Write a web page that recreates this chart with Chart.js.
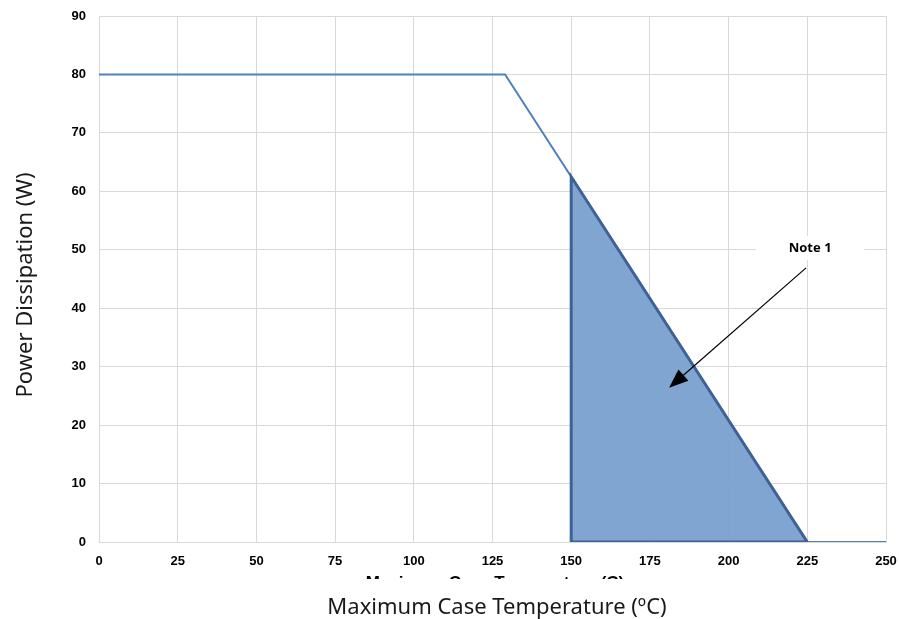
<!DOCTYPE html>
<html lang="en">
<head>
    <meta charset="UTF-8">
    <title>Power Dissipation vs Case Temperature</title>
    <script src="https://cdn.jsdelivr.net/npm/chart.js"></script>
    <style>
        html, body {
            margin: 0;
            padding: 0;
            background: #ffffff;
        }

        .chart-box {
            width: 899px;
            height: 619px;
        }
    </style>
</head>
<body>
    <div class="chart-box">
        <canvas id="deratingChart"></canvas>
    </div>

    <script>
        // Derating curve (temperature in degC, power in W)
        const curveTemps = [0, 129, 225, 250];
        const curvePower = [80, 80, 0, 0];

        // Shaded region under the curve from 150 degC
        const areaTemps = [150, 150, 225];
        const areaPower = [0, 62.5, 0];
        const areaBaseTemps = [150, 225];
        const areaBasePower = [0, 0];

        // Note callout: label position and arrow tip in data units
        const noteLabel = 'Note 1';
        const noteAt = [225.9, 50.3];
        const arrowFrom = [224.6, 46.9];
        const arrowTo = [181.1, 26.4];

        const xTicks = [0, 25, 50, 75, 100, 125, 150, 175, 200, 225, 250];
        const yTicks = [0, 10, 20, 30, 40, 50, 60, 70, 80, 90];

        const xTitleHidden = 'Maximum Case Temperature (C)';
        const xTitle = 'Maximum Case Temperature (\u00BAC)';
        const yTitle = 'Power Dissipation (W)';

        const toPoints = (xs, ys) => xs.map((x, i) => ({ x: x, y: ys[i] }));

        // Axis titles, note label and arrow drawn on top of the chart
        const extrasPlugin = {
            id: 'extras',
            afterDraw(chart) {
                const ctx = chart.ctx;
                const xs = chart.scales.x;
                const ys = chart.scales.y;
                const area = chart.chartArea;

                ctx.save();

                // small bold title, mostly covered by the large one
                ctx.fillStyle = '#000000';
                ctx.font = 'bold 17px "Liberation Sans", Arial, sans-serif';
                ctx.textAlign = 'center';
                ctx.textBaseline = 'alphabetic';
                ctx.fillText(xTitleHidden, 495, 588);
                ctx.fillStyle = '#ffffff';
                ctx.fillRect(300, 579, 420, 40);

                ctx.fillStyle = '#1a1a1a';
                ctx.font = '22px "Noto Sans", "Open Sans", sans-serif';
                ctx.fillText(xTitle, 497, 614);

                ctx.save();
                ctx.translate(32, (area.top + area.bottom) / 2 + 6);
                ctx.rotate(-Math.PI / 2);
                ctx.fillText(yTitle, 0, 0);
                ctx.restore();

                // note label with white backing
                const nx = xs.getPixelForValue(noteAt[0]);
                const ny = ys.getPixelForValue(noteAt[1]);
                ctx.fillStyle = '#ffffff';
                ctx.fillRect(nx - 54, ny - 12, 108, 24);
                ctx.fillStyle = '#000000';
                ctx.font = 'bold 13px "Noto Sans", "Open Sans", sans-serif';
                ctx.textBaseline = 'middle';
                ctx.fillText(noteLabel, nx, ny);

                // arrow
                const x1 = xs.getPixelForValue(arrowFrom[0]);
                const y1 = ys.getPixelForValue(arrowFrom[1]);
                const x2 = xs.getPixelForValue(arrowTo[0]);
                const y2 = ys.getPixelForValue(arrowTo[1]);
                const ang = Math.atan2(y2 - y1, x2 - x1);
                const headLen = 19;
                const headHalf = 7.5;
                const bx = x2 - headLen * Math.cos(ang);
                const by = y2 - headLen * Math.sin(ang);

                ctx.strokeStyle = '#000000';
                ctx.lineWidth = 1.2;
                ctx.beginPath();
                ctx.moveTo(x1, y1);
                ctx.lineTo(bx, by);
                ctx.stroke();

                ctx.fillStyle = '#000000';
                ctx.beginPath();
                ctx.moveTo(x2, y2);
                ctx.lineTo(bx + headHalf * Math.sin(ang), by - headHalf * Math.cos(ang));
                ctx.lineTo(bx - headHalf * Math.sin(ang), by + headHalf * Math.cos(ang));
                ctx.closePath();
                ctx.fill();

                ctx.restore();
            }
        };

        const tickFont = { family: '"Liberation Sans", Arial, sans-serif', size: 13, weight: 'bold' };

        new Chart(document.getElementById('deratingChart'), {
            type: 'scatter',
            data: {
                datasets: [
                    {
                        label: 'Region base',
                        data: toPoints(areaBaseTemps, areaBasePower),
                        showLine: true,
                        fill: false,
                        borderColor: '#3e6196',
                        borderWidth: 3,
                        pointRadius: 0
                    },
                    {
                        label: 'Region',
                        data: toPoints(areaTemps, areaPower),
                        showLine: true,
                        fill: 'origin',
                        backgroundColor: 'rgba(120, 160, 205, 0.95)',
                        borderColor: '#3e6196',
                        borderWidth: 3,
                        pointRadius: 0,
                        tension: 0
                    },
                    {
                        label: 'Derating',
                        data: toPoints(curveTemps, curvePower),
                        showLine: true,
                        fill: false,
                        borderColor: '#4f81bd',
                        borderWidth: 2,
                        pointRadius: 0,
                        tension: 0
                    }
                ]
            },
            options: {
                responsive: true,
                maintainAspectRatio: false,
                animation: false,
                layout: {
                    padding: { left: 0, right: 13, top: 16, bottom: 0 }
                },
                plugins: {
                    legend: { display: false },
                    tooltip: { enabled: false }
                },
                scales: {
                    x: {
                        type: 'linear',
                        min: 0,
                        max: 250,
                        afterBuildTicks: (scale) => {
                            scale.ticks = xTicks.map(v => ({ value: v }));
                        },
                        afterFit: (scale) => {
                            scale.height = 77;
                            scale.paddingLeft = 0;
                            scale.paddingRight = 0;
                        },
                        grid: { color: '#d9d9d9', lineWidth: 1, drawTicks: false },
                        border: { color: '#d9d9d9' },
                        ticks: { color: '#000000', font: tickFont, padding: 12, maxRotation: 0 }
                    },
                    y: {
                        type: 'linear',
                        min: 0,
                        max: 90,
                        afterBuildTicks: (scale) => {
                            scale.ticks = yTicks.map(v => ({ value: v }));
                        },
                        afterFit: (scale) => {
                            scale.width = 99;
                            scale.paddingTop = 0;
                            scale.paddingBottom = 0;
                        },
                        grid: { color: '#d9d9d9', lineWidth: 1, drawTicks: false },
                        border: { color: '#d9d9d9' },
                        ticks: { color: '#000000', font: tickFont, padding: 13 }
                    }
                }
            },
            plugins: [extrasPlugin]
        });
    </script>
</body>
</html>
